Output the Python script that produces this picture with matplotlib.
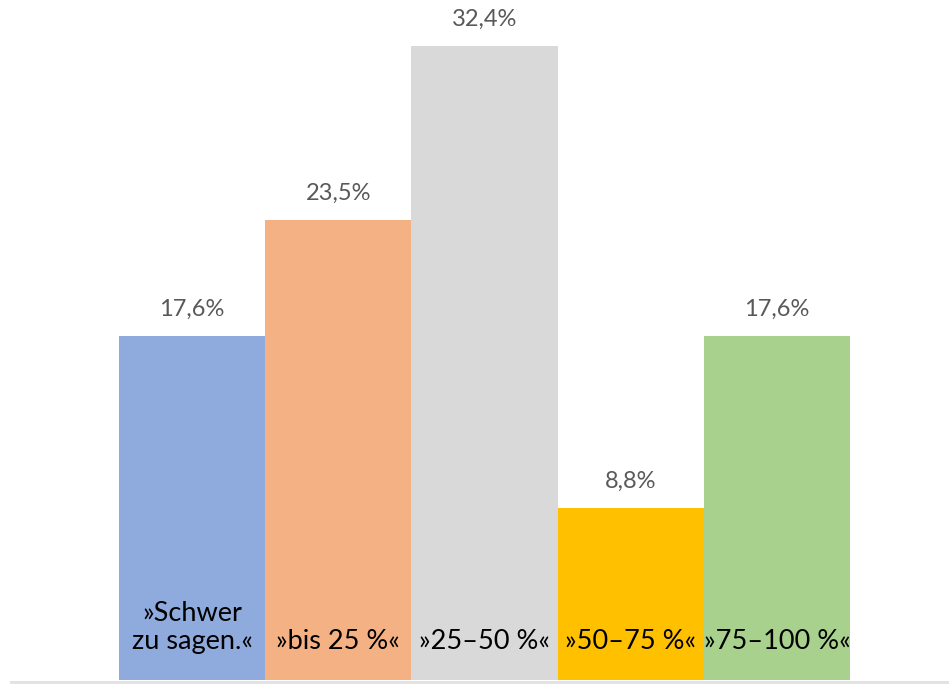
import matplotlib.pyplot as plt
from matplotlib.patches import Rectangle

# data
categories = ["»Schwer\nzu sagen.«", "»bis 25 %«", "»25–50 %«", "»50–75 %«", "»75–100 %«"]
values = [17.6, 23.5, 32.4, 8.8, 17.6]
value_labels = ["17,6%", "23,5%", "32,4%", "8,8%", "17,6%"]
colors = ["#8FAADC", "#F4B183", "#D9D9D9", "#FFC000", "#A9D18E"]

W, H = 949, 684
fig = plt.figure(figsize=(W / 100, H / 100), dpi=100)
plt.rcParams["font.family"] = ["Lato", "DejaVu Sans"]

# axes placed in pixel terms: bars from x=119 to 850, baseline at y=680
ax = fig.add_axes([119 / W, (H - 680) / H, (850 - 119) / W, 680 / H])
ax.set_xlim(-0.5, len(values) - 0.5)
ax.set_ylim(0, 32.4 * 680 / 634)
ax.axis("off")

x = range(len(values))
ax.bar(x, values, width=1.0, color=colors, linewidth=0)

for i, v in enumerate(values):
    ax.annotate(value_labels[i], (i, v), xytext=(0, 19), textcoords="offset points",
                ha="center", va="center", fontsize=17, color="#595959")
    ax.text(i, 1.6, categories[i], ha="center", va="baseline", fontsize=19.5,
            color="black", linespacing=1.15)

# thin gray strip along the bottom edge
fig.patches.append(Rectangle((10 / W, 0), 1 - 10 / W, 3.5 / H, transform=fig.transFigure,
                             facecolor="#E3E3E3", edgecolor="none"))

fig.savefig("out.png", dpi=100)
